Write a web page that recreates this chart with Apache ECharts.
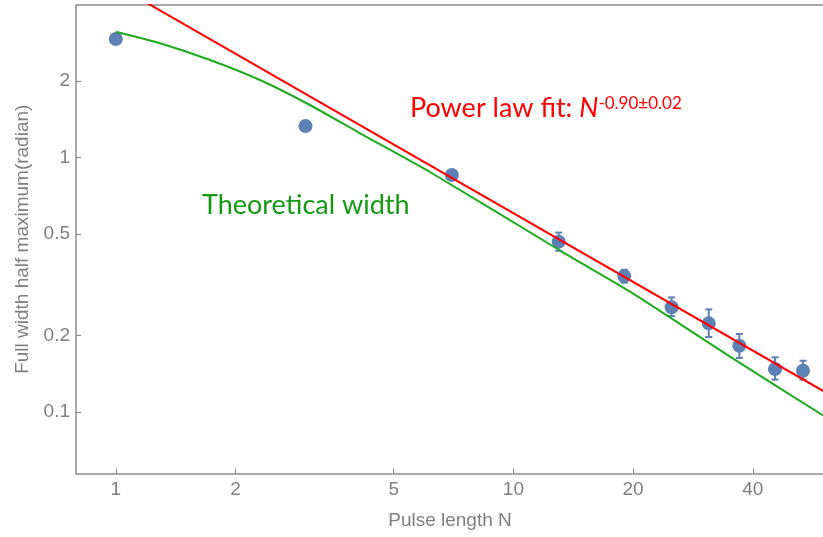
<!DOCTYPE html>
<html>
<head>
<meta charset="utf-8">
<script src="https://cdn.jsdelivr.net/npm/echarts@6/dist/echarts.min.js"></script>
<style>
  html, body { margin: 0; padding: 0; background: #fff; overflow: hidden; }
  #main { width: 830px; height: 537px; }
</style>
</head>
<body>
<div id="main"></div>
<script>
// measured widths (radian) vs pulse length N
var pulseN = [1, 3, 7, 13, 19, 25, 31, 37, 45.5, 53.5];
var fwhm = [2.92, 1.33, 0.854, 0.467, 0.342, 0.258, 0.223, 0.182, 0.1476, 0.1453];

// error bars
var errN = [13, 19, 25, 31, 37, 45.5, 53.5];
var errLow = [0.430, 0.322, 0.238, 0.197, 0.163, 0.134, 0.134];
var errHigh = [0.507, 0.362, 0.282, 0.253, 0.2025, 0.164, 0.159];

// power law fit (straight in log-log)
var fitN = [1, 61];
var fitW = [4.76, 0.1194];

// theoretical width curve
var theoryN = [1, 1.292, 1.726, 2.305, 3.078, 4.114, 6.17, 13.1, 19.65, 35.06, 61];
var theoryW = [3.12, 2.81, 2.416, 2.016, 1.608, 1.245, 0.877, 0.431, 0.297, 0.165, 0.0955];

// tick labels
var xTicks = [1, 2, 5, 10, 20, 40];
var yTicks = [0.1, 0.2, 0.5, 1, 2];

var lg = Math.log10;
var toXY = function (xs, ys) {
    return xs.map(function (x, i) { return [lg(x), lg(ys[i])]; });
};

var axisGray = '#8c8c8c';
var textGray = '#7f7f7f';
var labelFont = '"Liberation Sans", Arial, sans-serif';
var xMin = -0.1001, xMax = 1.7812;

var myChart = echarts.init(document.getElementById('main'));

var option = {
    animation: false,
    grid: { left: 76, right: 6, top: 5, bottom: 63.5 },
    xAxis: {
        type: 'value',
        min: xMin,
        max: xMax,
        name: 'Pulse length N',
        nameLocation: 'middle',
        nameGap: 38,
        nameTextStyle: { color: textGray, fontSize: 19, fontFamily: labelFont },
        axisLine: { show: true, onZero: false, lineStyle: { color: axisGray, width: 1.5 } },
        axisTick: { show: true, inside: true, length: 5, customValues: xTicks.map(lg),
            lineStyle: { color: axisGray, width: 1.2 } },
        axisLabel: { show: true, customValues: xTicks.map(lg), margin: 7,
            color: textGray, fontSize: 19, fontFamily: labelFont,
            formatter: function (v) { return String(Math.round(Math.pow(10, v))); } },
        splitLine: { show: false }
    },
    yAxis: {
        type: 'value',
        min: -1.2417,
        max: 0.5992,
        name: 'Full width half maximum(radian)',
        nameLocation: 'middle',
        nameGap: 43,
        nameTextStyle: { color: textGray, fontSize: 19, fontFamily: labelFont },
        axisLine: { show: true, onZero: false, lineStyle: { color: axisGray, width: 1.5 } },
        axisTick: { show: true, inside: true, length: 5, customValues: yTicks.map(lg),
            lineStyle: { color: axisGray, width: 1.2 } },
        axisLabel: { show: true, customValues: yTicks.map(lg), margin: 6,
            color: textGray, fontSize: 19, fontFamily: labelFont,
            formatter: function (v) { return String(Number(Math.pow(10, v).toPrecision(2))); } },
        splitLine: { show: false }
    },
    graphic: [{
        // top frame edge of the plot
        type: 'line',
        shape: { x1: 76, y1: 5, x2: 830, y2: 5 },
        style: { stroke: axisGray, lineWidth: 1.5 },
        z: 1
    }, {
        type: 'text',
        x: 410,
        y: 95,
        style: {
            text: '{a|Power law fit: }{n|N}{s|-0.90±0.02}',
            rich: {
                a: { fontSize: 27, fontFamily: 'Lato', fill: '#ff0000', color: '#ff0000' },
                n: { fontSize: 27, fontFamily: 'Lato', fontStyle: 'italic', fill: '#ff0000', color: '#ff0000' },
                s: { fontSize: 17, fontFamily: 'Lato', fill: '#ff0000', color: '#ff0000', verticalAlign: 'top' }
            }
        },
        z: 10
    }, {
        type: 'text',
        x: 202,
        y: 192,
        style: {
            text: 'Theoretical width',
            font: '27px Lato',
            fill: '#139a13'
        },
        z: 10
    }],
    series: [{
        name: 'data',
        type: 'scatter',
        symbolSize: 14,
        itemStyle: { color: '#5e81b5', opacity: 1 },
        data: toXY(pulseN, fwhm),
        z: 2
    }, {
        name: 'errors',
        type: 'custom',
        data: errN.map(function (n, i) { return [lg(n), lg(errLow[i]), lg(errHigh[i])]; }),
        renderItem: function (params, api) {
            var lo = api.coord([api.value(0), api.value(1)]);
            var hi = api.coord([api.value(0), api.value(2)]);
            var cap = 3.5;
            var st = { stroke: '#5e81b5', lineWidth: 2 };
            return {
                type: 'group',
                children: [
                    { type: 'line', shape: { x1: lo[0], y1: lo[1], x2: hi[0], y2: hi[1] }, style: st },
                    { type: 'line', shape: { x1: lo[0] - cap, y1: lo[1], x2: lo[0] + cap, y2: lo[1] }, style: st },
                    { type: 'line', shape: { x1: hi[0] - cap, y1: hi[1], x2: hi[0] + cap, y2: hi[1] }, style: st }
                ]
            };
        },
        z: 2
    }, {
        name: 'theory',
        type: 'line',
        data: toXY(theoryN, theoryW),
        smooth: 0.2,
        showSymbol: false,
        lineStyle: { color: '#1faa1f', width: 2 },
        z: 3
    }, {
        name: 'fit',
        type: 'line',
        data: toXY(fitN, fitW),
        showSymbol: false,
        lineStyle: { color: '#ff0000', width: 2 },
        z: 4
    }]
};
myChart.setOption(option);
</script>
</body>
</html>
